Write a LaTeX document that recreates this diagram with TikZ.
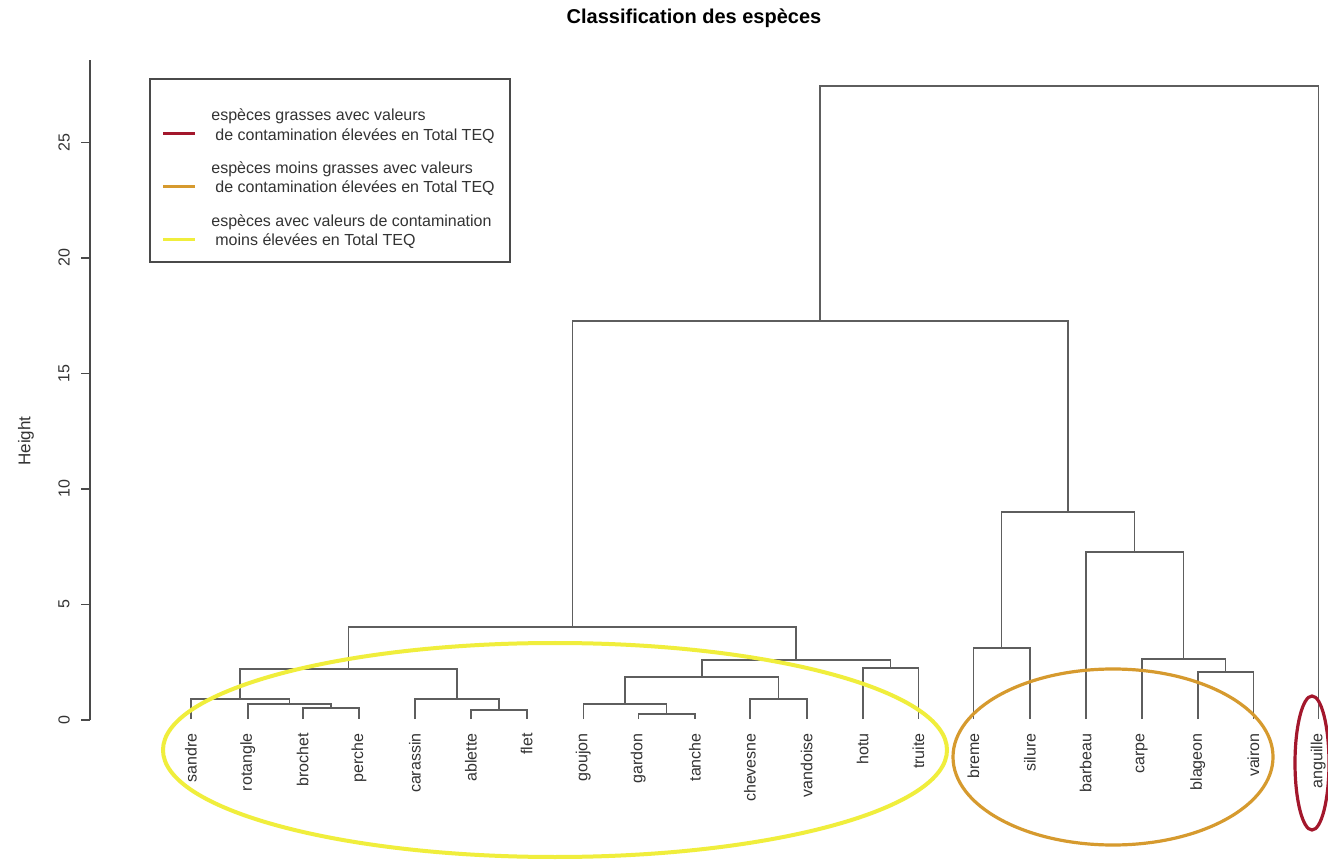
\documentclass[tikz,border=0pt]{standalone}
\usepackage{fontspec}
\setmainfont{Liberation Sans}
\definecolor{dendgray}{HTML}{5E5E5E}
\definecolor{axgray}{HTML}{4A4A4A}
\definecolor{labgray}{HTML}{333333}
\definecolor{ellyellow}{HTML}{F0EE3C}
\definecolor{ellorange}{HTML}{D69A2E}
\definecolor{ellred}{HTML}{A3172C}
\begin{document}
\begin{tikzpicture}[x=0.5pt,y=-0.5pt,
  dend/.style={draw=dendgray, line width=0.8pt},
  axisline/.style={draw=axgray, line width=0.7pt},
  leaflab/.style={rotate=90, anchor=east, inner sep=0pt, text=labgray, font=\fontsize{8}{9.6}\selectfont},
  ticklab/.style={rotate=90, anchor=center, inner sep=0pt, text=labgray, font=\fontsize{8}{9.6}\selectfont},
  legtext/.style={anchor=base west, inner sep=0pt, text=labgray, font=\fontsize{8}{9.6}\selectfont},
  legline/.style={line width=1.5pt},
  groupell/.style={line width=1.6pt}
]
\useasboundingbox (0,0) rectangle (1328,865);
\fill[white] (0,0) rectangle (1328,865);

% title
\node[anchor=base, inner sep=0pt, font=\fontsize{10}{12}\bfseries] (title) at (694,24) {Classification des espèces};

% axis
\coordinate (ax0) at (90,720);
\coordinate (axtop) at (90,60);
\draw[axisline] (ax0) -- (axtop);
\foreach \v/\yy in {0/720,5/604.5,10/489,15/373.5,20/258,25/142.5}{
  \coordinate (tk\v) at (90,\yy);
  \coordinate (tl\v) at (81,\yy);
  \draw[axisline] (tk\v) -- (tl\v);
  \node[ticklab] (lab\v) at (64,\yy) {\v};
}
\node[rotate=90, inner sep=0pt, text=labgray, font=\fontsize{8.5}{10}\selectfont] (ylab) at (26,441) {Height};

% leaves
\foreach \nm/\xx in {sandre/191, rotangle/247.7, brochet/302.7, perche/359, carassin/415, ablette/471, flet/526.7, goujon/583.3, gardon/638.3, tanche/695, chevesne/750, vandoise/806.7, hotu/862.7, truite/918.3, breme/973.3, silure/1030, barbeau/1085.7, carpe/1141.7, blageon/1197.7, vairon/1253.3, anguille/1318.3}{
  \coordinate (t-\nm) at (\xx,719);
  \node[leaflab] (n-\nm) at (\xx,733) {\nm};
}

% merge points
\coordinate (bp)   at (330.85,708);
\coordinate (rbp)  at (289.3,704);
\coordinate (srbp) at (240.1,699);
\coordinate (af)   at (498.85,710);
\coordinate (caf)  at (456.9,699);
\coordinate (A)    at (348.5,669);
\coordinate (gt)   at (666.65,714);
\coordinate (ggt)  at (625.0,704);
\coordinate (cv)   at (778.35,699);
\coordinate (G)    at (701.7,677);
\coordinate (ht)   at (890.5,668);
\coordinate (H)    at (796.1,660);
\coordinate (L)    at (572.3,627);
\coordinate (bs)   at (1001.65,648);
\coordinate (bv)   at (1225.5,672);
\coordinate (cbv)  at (1183.6,659);
\coordinate (bcbv) at (1134.65,552);
\coordinate (R)    at (1068.15,512);
\coordinate (LR)   at (820.2,321);
\coordinate (root) at (1069.25,86);

% dendrogram
\draw[dend] (t-brochet) |- (bp) -| (t-perche);
\draw[dend] (t-rotangle) |- (rbp) -| (bp);
\draw[dend] (t-sandre) |- (srbp) -| (rbp);
\draw[dend] (t-ablette) |- (af) -| (t-flet);
\draw[dend] (t-carassin) |- (caf) -| (af);
\draw[dend] (srbp) |- (A) -| (caf);
\draw[dend] (t-gardon) |- (gt) -| (t-tanche);
\draw[dend] (t-goujon) |- (ggt) -| (gt);
\draw[dend] (t-chevesne) |- (cv) -| (t-vandoise);
\draw[dend] (ggt) |- (G) -| (cv);
\draw[dend] (t-hotu) |- (ht) -| (t-truite);
\draw[dend] (G) |- (H) -| (ht);
\draw[dend] (A) |- (L) -| (H);
\draw[dend] (t-breme) |- (bs) -| (t-silure);
\draw[dend] (t-blageon) |- (bv) -| (t-vairon);
\draw[dend] (t-carpe) |- (cbv) -| (bv);
\draw[dend] (t-barbeau) |- (bcbv) -| (cbv);
\draw[dend] (bs) |- (R) -| (bcbv);
\draw[dend] (L) |- (LR) -| (R);
\draw[dend] (LR) |- (root) -| (t-anguille);

% legend
\draw[draw=axgray, line width=0.6pt] (150,79) rectangle (510,262);
\coordinate (lr1) at (163,134); \coordinate (lr2) at (195,134);
\coordinate (lo1) at (163,187); \coordinate (lo2) at (195,187);
\coordinate (ly1) at (163,240); \coordinate (ly2) at (195,240);
\draw[legline, draw=ellred] (lr1) -- (lr2);
\draw[legline, draw=ellorange] (lo1) -- (lo2);
\draw[legline, draw=ellyellow] (ly1) -- (ly2);
\node[legtext] (lt1) at (211,121) {espèces grasses avec valeurs};
\node[legtext] (lt2) at (215,140.5) {de contamination élevées en Total TEQ};
\node[legtext] (lt3) at (211,173.5) {espèces moins grasses avec valeurs};
\node[legtext] (lt4) at (215,193) {de contamination élevées en Total TEQ};
\node[legtext] (lt5) at (211,226.5) {espèces avec valeurs de contamination};
\node[legtext] (lt6) at (215,246) {moins élevées en Total TEQ};

% group ellipses
\draw[groupell, draw=ellyellow, line width=2pt] (555,750) ellipse [x radius=392, y radius=107];
\draw[groupell, draw=ellorange] (1113,757) ellipse [x radius=160, y radius=88];
\draw[groupell, draw=ellred] (1312,763) ellipse [x radius=17, y radius=67];
\end{tikzpicture}
\end{document}
